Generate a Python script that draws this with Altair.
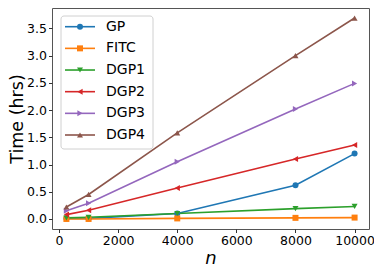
import altair as alt
import pandas as pd

n_values = [250, 1000, 4000, 8000, 10000]
series_names = ["GP", "FITC", "DGP1", "DGP2", "DGP3", "DGP4"]
gp = [0.01, 0.01, 0.10, 0.62, 1.20]
fitc = [0.0, 0.0, 0.01, 0.02, 0.025]
dgp1 = [0.02, 0.03, 0.10, 0.19, 0.23]
dgp2 = [0.08, 0.16, 0.57, 1.10, 1.36]
dgp3 = [0.15, 0.29, 1.05, 2.02, 2.49]
dgp4 = [0.22, 0.45, 1.58, 3.00, 3.69]
colors = ["#1f77b4", "#ff7f0e", "#2ca02c", "#d62728", "#9467bd", "#8c564b"]
shapes = ["circle", "square", "triangle-down", "triangle-left", "triangle-right", "triangle-up"]

rows = []
for name, vals in zip(series_names, [gp, fitc, dgp1, dgp2, dgp3, dgp4]):
    for n, v in zip(n_values, vals):
        rows.append({"n": n, "time": v, "series": name})
df = pd.DataFrame(rows)
legend_df = pd.DataFrame({"series": series_names})
box_df = pd.DataFrame({"k": [0]})

xs = alt.X("n:Q", scale=alt.Scale(domain=[-237.5, 10487.5], nice=False, zero=False),
           axis=alt.Axis(values=[0, 2000, 4000, 6000, 8000, 10000], format="d", title="n",
                         titleFontStyle="italic", titleFontSize=18, titleFontWeight="normal",
                         titlePadding=2))
ys = alt.Y("time:Q", scale=alt.Scale(domain=[-0.1845, 3.8745], nice=False, zero=False),
           axis=alt.Axis(values=[0, 0.5, 1, 1.5, 2, 2.5, 3, 3.5], format=".1f", title="Time (hrs)",
                         titleFontSize=17.5, titleFontWeight="normal", titlePadding=0))

cscale = alt.Scale(domain=series_names, range=colors)
col = alt.Color("series:N", scale=cscale, legend=None)

lines = alt.Chart(df).mark_line(strokeWidth=1.6).encode(
    x=xs, y=ys, color=col, order=alt.Order("n:Q"),
)
point_layers = []
for name, shp in zip(series_names, shapes):
    point_layers.append(
        alt.Chart(df).transform_filter(alt.datum.series == name)
        .mark_point(filled=True, size=36, opacity=1, shape=shp)
        .encode(x=xs, y=ys, color=col)
    )
data_layer = alt.layer(lines, *point_layers)

# legend (upper left, inside the plot)
ly = alt.Y("series:N", scale=alt.Scale(type="point", domain=series_names, range=[18.7, 127], padding=0),
           axis=None)
box = alt.Chart(box_df).mark_rect(fill="white", stroke="#cccccc", strokeWidth=1,
                                  cornerRadius=3, opacity=0.9).encode(
    x=alt.value(9), x2=alt.value(101), y=alt.value(8), y2=alt.value(141))
leg_lines = alt.Chart(legend_df).mark_rule(strokeWidth=1.6).encode(
    x=alt.value(13), x2=alt.value(43), y=ly, color=col)
leg_points = []
for name, shp in zip(series_names, shapes):
    leg_points.append(
        alt.Chart(legend_df).transform_filter(alt.datum.series == name)
        .mark_point(filled=True, size=36, opacity=1, shape=shp)
        .encode(x=alt.value(28), y=ly, color=col)
    )
leg_text = alt.Chart(legend_df).mark_text(align="left", baseline="middle", fontSize=14,
                                          font="DejaVu Sans", color="black").encode(
    x=alt.value(54), y=ly, text="series:N")
legend_layer = alt.layer(box, leg_lines, *leg_points, leg_text)

chart = alt.layer(data_layer, legend_layer).resolve_scale(y="independent").properties(
    width=317, height=221,
    autosize=alt.AutoSizeParams(type="none"),
    padding={"left": 44, "top": 0, "right": 5, "bottom": 37},
).configure_view(
    stroke="#555555", strokeWidth=1
).configure_axis(
    grid=False, domain=False, tickColor="#333333", tickSize=3.5, labelFontSize=12.5,
    labelFont="DejaVu Sans", titleFont="DejaVu Sans", labelColor="black", titleColor="black",
    labelPadding=2,
)

chart.save("out.html", embed_options={"renderer": "svg", "actions": False})
